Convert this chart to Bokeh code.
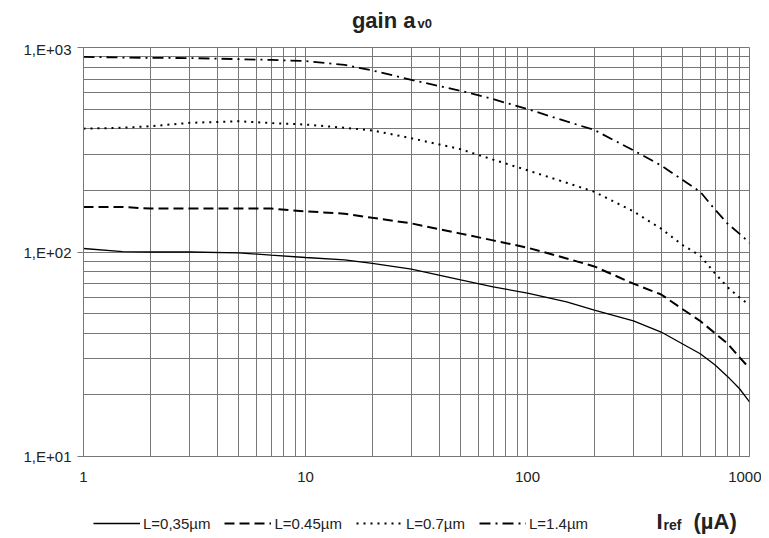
from bokeh.plotting import figure
from bokeh.layouts import column
from bokeh.models import FixedTicker, Legend, LegendItem, Label, Range1d
from bokeh.embed import file_html
from bokeh.resources import INLINE

# ---- data ----
iref = [1, 1.5, 2, 3, 5, 7, 10, 15, 20, 30, 50, 70, 100, 150, 200, 300, 400, 500, 600, 700, 800, 900, 1000]
gain_L035 = [104, 100.5, 100, 100, 99, 96.5, 94, 91.5, 88, 82.5, 73, 67.5, 63, 57, 52, 46, 40.6, 35.5, 31.8, 28, 24.5, 21.5, 18.5]
gain_L045 = [166, 166, 163, 163, 163, 163, 158, 154, 147, 138, 123, 114, 105, 93, 85, 70, 62, 52.5, 46, 40, 35.5, 30.6, 27]
gain_L07 = [401, 405, 412, 428, 436, 427, 420, 405, 393, 360, 318, 283, 251, 218, 197, 158, 130, 108, 96, 78.5, 67, 60, 55]
gain_L14 = [900, 893, 890, 888, 877, 870, 858, 822, 772, 695, 614, 559, 500, 435, 395, 314, 265, 225, 197, 161, 137, 123, 111]

series_labels = ["L=0,35µm", "L=0.45µm", "L=0.7µm", "L=1.4µm"]
x_tick_labels = ["1", "10", "100", "1000"]
y_tick_labels = ["1,E+01", "1,E+02", "1,E+03"]
title_main = "gain a"
title_sub = "v0"
xlabel_main = "I"
xlabel_sub = "ref"
xlabel_unit = "(µA)"

FONT = "Liberation Sans"
GRID = "#777777"
TXT = "#222222"
W = 761
LEFT = 83
RIGHT = 12

styles = [dict(line_color="black", line_width=1.3),
          dict(line_color="black", line_width=2, line_dash="10 5"),
          dict(line_color="black", line_width=2, line_dash="2 5"),
          dict(line_color="black", line_width=1.8, line_dash="11 5 2 5")]
series = [gain_L035, gain_L045, gain_L07, gain_L14]


def blank(height):
    f = figure(width=W, height=height, output_backend="svg", toolbar_location=None,
               x_axis_location=None, y_axis_location=None,
               x_range=Range1d(0, 1), y_range=Range1d(0, 1),
               min_border_left=LEFT, min_border_right=RIGHT, min_border_top=0, min_border_bottom=0)
    f.grid.visible = False
    f.outline_line_color = None
    f.background_fill_color = "white"
    f.border_fill_color = "white"
    return f


def text_label(fig, x, y, text, size, align="left"):
    fig.add_layout(Label(x=x, y=y, x_units="screen", y_units="screen", text=text,
                         text_align=align, text_baseline="alphabetic", text_font=FONT,
                         text_font_size=size, text_font_style="bold", text_color=TXT))


# ---- title strip (label x positions are relative to the shared frame's left edge) ----
top = blank(40)
text_label(top, 332, 20, title_main, "22px", align="right")
text_label(top, 334, 17, title_sub, "13px")

# ---- main chart ----
p = figure(width=W, height=448, x_axis_type="log", y_axis_type="log",
           x_range=(1, 1000), y_range=(10, 1000),
           output_backend="svg", toolbar_location=None,
           min_border_left=LEFT, min_border_right=RIGHT, min_border_top=7, min_border_bottom=32)

x_major = [1, 10, 100, 1000]
y_major = [10, 100, 1000]
x_minor = [m * d for d in (1, 10, 100) for m in range(2, 10)]
y_minor = [m * d for d in (10, 100) for m in range(2, 10)]
p.xaxis.ticker = FixedTicker(ticks=x_major, minor_ticks=x_minor)
p.yaxis.ticker = FixedTicker(ticks=y_major, minor_ticks=y_minor)
p.xaxis.major_label_overrides = {v: s for v, s in zip(x_major, x_tick_labels)}
p.yaxis.major_label_overrides = {v: s for v, s in zip(y_major, y_tick_labels)}

for ax in (p.xaxis, p.yaxis):
    ax.axis_line_color = GRID
    ax.major_tick_line_color = GRID
    ax.minor_tick_line_color = None
    ax.major_label_text_font = FONT
    ax.major_label_text_font_size = "15px"
    ax.major_label_text_color = TXT
p.xaxis.major_tick_out = 0
p.xaxis.major_tick_in = 0
p.xaxis.major_label_standoff = 11
p.yaxis.major_tick_out = 6
p.yaxis.major_tick_in = 0
p.yaxis.major_label_standoff = 6

for g in (p.xgrid, p.ygrid):
    g.grid_line_color = GRID
    g.grid_line_alpha = 1
    g.minor_grid_line_color = GRID
    g.minor_grid_line_alpha = 1
p.outline_line_color = GRID
p.background_fill_color = "white"
p.border_fill_color = "white"

for ys, st in zip(series, styles):
    p.line(iref, ys, **st)

# ---- legend + x label strip ----
bot = blank(50)
leg_renderers = [bot.line(iref, ys, **st) for ys, st in zip(series, styles)]  # out of view; legend glyphs only
legend = Legend(items=[LegendItem(label=l, renderers=[r]) for l, r in zip(series_labels, leg_renderers)],
                orientation="horizontal", location=(10, 5),
                glyph_width=47, glyph_height=20, label_height=20, label_standoff=3, spacing=14,
                padding=0, margin=0, border_line_color=None, background_fill_alpha=0,
                label_text_font=FONT, label_text_font_size="15px", label_text_color=TXT)
bot.add_layout(legend, "center")
text_label(bot, 573, 17, xlabel_main, "22px")
text_label(bot, 580, 14, xlabel_sub, "14px")
text_label(bot, 610, 17, xlabel_unit, "22px")

layout = column(top, p, bot, spacing=0)
open("out.html", "w").write(file_html(layout, INLINE))
